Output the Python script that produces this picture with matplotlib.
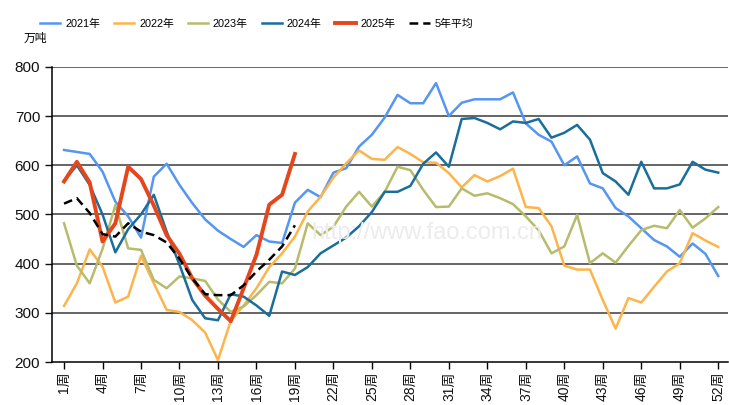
import numpy as np
import matplotlib
matplotlib.use("Agg")
import matplotlib.pyplot as plt

plt.rcParams['font.family'] = ['Liberation Sans', 'Noto Sans CJK SC', 'DejaVu Sans']

weeks = list(range(1, 53))
tick_weeks = list(range(1, 53, 3))
tick_labels = [f"{w}周" for w in tick_weeks]

y2021 = [631, 627, 623, 587, 526, 496, 453, 577, 603, 560,
         523, 490, 467, 450, 434, 458, 445, 442, 524, 550,
         535, 585, 594, 638, 662, 697, 743, 726, 726, 767,
         700, 727, 734, 734, 734, 748, 685, 662, 648, 600,
         618, 563, 553, 513, 496, 472, 448, 435, 414, 441,
         420, 375]
y2022 = [314, 360, 429, 394, 321, 333, 416, 360, 306, 302,
         285, 260, 204, 284, 315, 350, 393, 421, 455, 506,
         536, 575, 604, 630, 613, 611, 637, 623, 606, 605,
         584, 555, 580, 567, 578, 593, 515, 513, 476, 396,
         388, 388, 326, 268, 330, 321, 353, 384, 401, 462,
         447, 434]
y2023 = [482, 396, 360, 430, 519, 431, 428, 367, 350, 374,
         370, 365, 327, 302, 313, 336, 363, 360, 390, 482,
         458, 475, 516, 546, 516, 546, 597, 590, 550, 515,
         516, 553, 538, 543, 533, 521, 496, 468, 421, 435,
         499, 401, 421, 402, 436, 468, 477, 472, 509, 473,
         492, 515]
y2024 = [568, 600, 560, 500, 423, 470, 500, 540, 465, 398,
         326, 289, 285, 338, 333, 315, 294, 384, 377, 393,
         421, 437, 453, 476, 505, 546, 546, 558, 603, 626,
         597, 694, 696, 686, 673, 689, 686, 694, 656, 666,
         682, 652, 584, 567, 540, 607, 553, 553, 561, 607,
         591, 585]
y2025 = [567, 607, 565, 445, 482, 597, 572, 518, 458, 420,
         370, 335, 308, 283, 350, 418, 520, 540, 623]
avg5 = [522, 533, 503, 460, 455, 482, 465, 458, 443, 410,
        370, 338, 336, 336, 356, 384, 408, 435, 478]

fig = plt.figure(figsize=(7.29, 4.05), dpi=100)
ax = fig.add_axes([0.0713, 0.106, 0.928, 0.729])

for v in [300, 400, 500, 600, 700, 800]:
    ax.axhline(v, color="#3a3a3a", lw=1.1, zorder=1)

# 水印
fig.text(0.585, 0.425, "http://www.fao.com.cn", fontsize=17, color="#ececec",
         ha="center", va="center", zorder=0)

ax.plot(weeks, y2021, color="#5596f2", lw=1.8, label="2021年", zorder=3)
ax.plot(weeks, y2022, color="#fdb44b", lw=1.8, label="2022年", zorder=3)
ax.plot(weeks, y2023, color="#b7bc6c", lw=1.8, label="2023年", zorder=3)
ax.plot(weeks, y2024, color="#1a6e9c", lw=1.8, label="2024年", zorder=4)
ax.plot(weeks[:len(y2025)], y2025, color="#e5461c", lw=2.8, label="2025年", zorder=5)
ax.plot(weeks[:len(avg5)], avg5, color="black", lw=1.8, ls=(0, (3.5, 2)),
        label="5年平均", zorder=6)

ax.set_xlim(0.06, 52.8)
ax.set_ylim(200, 800)
ax.set_yticks(range(200, 801, 100))
ax.set_xticks(tick_weeks)
ax.set_xticklabels(tick_labels, rotation=90, fontsize=10, color="#111111")
ax.tick_params(axis="y", labelsize=11, length=5, width=1, colors="#111111")
ax.tick_params(axis="x", length=5, width=1, pad=2)

for s in ["top", "right"]:
    ax.spines[s].set_visible(False)
ax.spines["left"].set_color("black")
ax.spines["bottom"].set_color("black")
ax.spines["left"].set_linewidth(1.1)
ax.spines["bottom"].set_linewidth(1.1)

fig.text(0.032, 0.905, "万吨", fontsize=8.5, ha="left", va="center")
fig.legend(loc="center", bbox_to_anchor=(0.352, 0.942), ncol=6, frameon=False,
           fontsize=7.8, handlelength=1.9, handletextpad=0.45, columnspacing=1.25)

fig.savefig("out.png", dpi=100)
